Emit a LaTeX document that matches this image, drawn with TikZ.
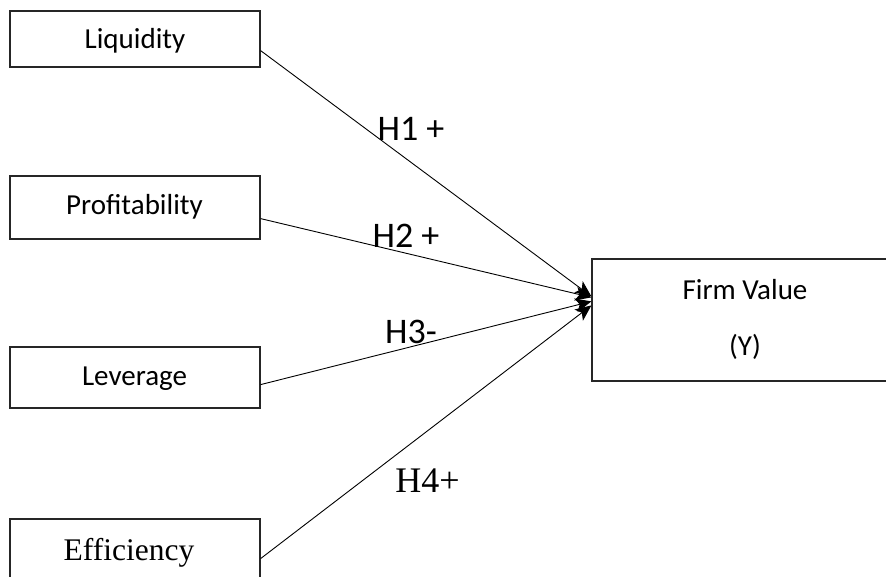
\documentclass[tikz,border=0pt]{standalone}
\usepackage{fontspec}
\setmainfont{Carlito}
\newfontfamily\tnr{Liberation Serif}
\usetikzlibrary{arrows.meta}
\begin{document}
\begin{tikzpicture}[x=1pt,y=-1pt,
  box/.style={draw=black!85, line width=1.2pt, rectangle, inner sep=0pt},
  lbl/.style={anchor=base, inner sep=0pt, font=\fontsize{29}{32}\selectfont},
  hyp/.style={anchor=base, inner sep=0pt, font=\fontsize{36}{40}\selectfont},
  conn/.style={line width=0.9pt, -{Stealth[length=16pt,width=14pt,inset=4pt]}}]
\useasboundingbox[fill=white] (0,0) rectangle (886,577);
% boxes
\node[box, minimum width=250pt, minimum height=56pt] (liq) at (135,39) {};
\node[box, minimum width=250pt, minimum height=63pt] (prof) at (135,207.5) {};
\node[box, minimum width=250pt, minimum height=61pt] (lev) at (135,377.5) {};
\node[box, minimum width=250pt, minimum height=61pt] (eff) at (135,549.5) {};
\node[box, minimum width=298pt, minimum height=122pt] (fv) at (741,320) {};
% box labels
\node[lbl] (tliq) at (135,49) {Liquidity};
\node[lbl] (tprof) at (134.5,215) {Profitability};
\node[lbl] (tlev) at (134.5,385) {Leverage};
\node[lbl, font=\tnr\fontsize{31.5}{34}\selectfont] (teff) at (129,560) {Efficiency};
\node[lbl] (tfv) at (745,300) {Firm Value};
\node[lbl] (ty) at (745,355) {(Y)};
% connectors
\draw[conn] ([yshift=17pt]liq.south east) -- ([yshift=-38pt]fv.north west);
\draw[conn] ([yshift=21pt]prof.south east) -- ([yshift=-39pt]fv.north west);
\draw[conn] ([yshift=24pt]lev.south east) -- ([yshift=-43pt]fv.north west);
\draw[conn] ([yshift=22pt]eff.south east) -- ([yshift=-47pt]fv.north west);
% hypothesis labels
\node[hyp] (h1) at (411,141) {H1 +};
\node[hyp] (h2) at (406,248) {H2 +};
\node[hyp] (h3) at (411,343) {H3-};
\node[hyp, font=\tnr\fontsize{36}{40}\selectfont] (h4) at (427.5,492) {H4+};
\end{tikzpicture}
\end{document}
